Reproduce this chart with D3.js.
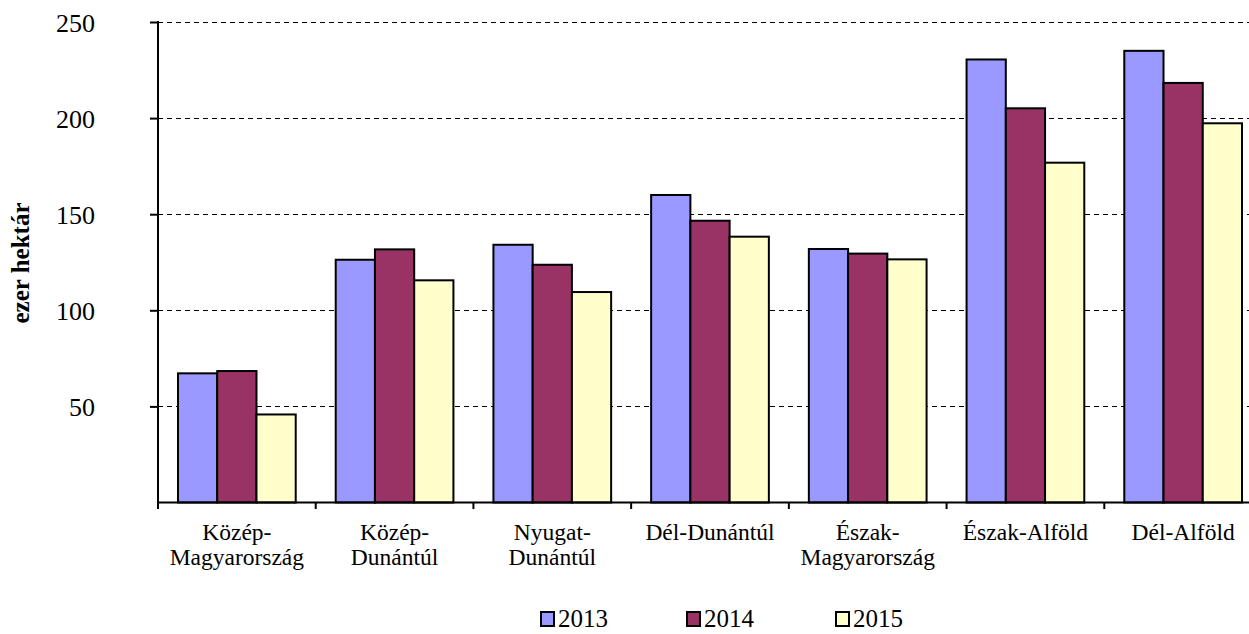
<!DOCTYPE html>
<html>
<head>
<meta charset="utf-8">
<script src="https://cdn.jsdelivr.net/npm/d3@7"></script>
<style>
  html, body { margin: 0; padding: 0; background: #fff; }
  svg { display: block; }
  text { font-family: "Liberation Serif", "Times New Roman", serif; fill: #000; }
</style>
</head>
<body>
<svg id="chart" width="1249" height="634"></svg>
<script>
const categories = [
  ["Közép-", "Magyarország"],
  ["Közép-", "Dunántúl"],
  ["Nyugat-", "Dunántúl"],
  ["Dél-Dunántúl"],
  ["Észak-", "Magyarország"],
  ["Észak-Alföld"],
  ["Dél-Alföld"]
];
const seriesNames = ["2013", "2014", "2015"];
const values2013 = [67.2, 126.3, 134.1, 160.0, 131.9, 230.5, 235.0];
const values2014 = [68.4, 131.7, 123.7, 146.6, 129.5, 205.1, 218.3];
const values2015 = [45.8, 115.6, 109.5, 138.3, 126.5, 176.8, 197.3];
const yTicks = [50, 100, 150, 200, 250];
const colors = ["#9999FF", "#993366", "#FFFFCC"];

const series = [values2013, values2014, values2015];
const svg = d3.select("#chart");

const x0 = d3.scaleBand()
  .domain(d3.range(categories.length))
  .range([158, 1262])
  .paddingInner(0.2536)
  .paddingOuter(0.1268);
const x1 = d3.scaleBand()
  .domain(seriesNames)
  .range([0, x0.bandwidth()])
  .padding(0);
const y = d3.scaleLinear().domain([0, 250]).range([502.5, 22]);

// gridlines
svg.append("g")
  .selectAll("line")
  .data(yTicks)
  .join("line")
  .attr("x1", 158).attr("x2", 1262)
  .attr("y1", d => Math.round(y(d)) + 0.5).attr("y2", d => Math.round(y(d)) + 0.5)
  .attr("stroke", "#000").attr("stroke-width", 1)
  .attr("stroke-dasharray", "5,4");

// bars
const groups = svg.append("g")
  .selectAll("g")
  .data(categories.map((c, i) => i))
  .join("g")
  .attr("transform", i => `translate(${x0(i)},0)`);
groups.selectAll("rect")
  .data(i => seriesNames.map((s, k) => ({ s, k, v: series[k][i] })))
  .join("rect")
  .attr("x", d => x1(d.s))
  .attr("y", d => y(d.v))
  .attr("width", x1.bandwidth())
  .attr("height", d => y(0) - y(d.v))
  .attr("fill", d => colors[d.k])
  .attr("stroke", "#000")
  .attr("stroke-width", 2);

// y axis
const yAxis = d3.axisLeft(y).tickValues(yTicks).tickSize(8).tickPadding(0).tickFormat(d3.format("d"));
const gy = svg.append("g").attr("transform", "translate(158,0)").call(yAxis);
gy.select(".domain").attr("stroke", "#000").attr("stroke-width", 2).attr("d", "M0,21V503");
gy.selectAll(".tick line").attr("stroke", "#000").attr("stroke-width", 2);
gy.selectAll(".tick text")
  .attr("x", -63).attr("dy", "0.35em")
  .style("font-family", "'Liberation Serif', serif")
  .style("font-size", "26px").attr("fill", "#000");

// x axis baseline with category boundary ticks
const bounds = d3.range(categories.length + 1).map(i => 158 + i * x0.step());
svg.append("line")
  .attr("x1", 157).attr("x2", 1262)
  .attr("y1", 502.5).attr("y2", 502.5)
  .attr("stroke", "#000").attr("stroke-width", 2);
svg.append("g").selectAll("line")
  .data(bounds)
  .join("line")
  .attr("x1", d => d).attr("x2", d => d)
  .attr("y1", 502).attr("y2", 509)
  .attr("stroke", "#000").attr("stroke-width", 2);

// category labels
const lab = svg.append("g").selectAll("text")
  .data(categories.map((c, i) => ({ c, i })))
  .join("text")
  .attr("text-anchor", "middle")
  .attr("font-size", "23.5px")
  .attr("x", d => x0(d.i) + x0.bandwidth() / 2)
  .attr("y", 540);
lab.selectAll("tspan")
  .data(d => d.c.map((t, j) => ({ t, j, x: x0(d.i) + x0.bandwidth() / 2 })))
  .join("tspan")
  .attr("x", d => d.x)
  .attr("dy", d => d.j === 0 ? 0 : 25)
  .text(d => d.t);

// y title
svg.append("text")
  .attr("transform", "translate(29,263) rotate(-90)")
  .attr("text-anchor", "middle")
  .attr("font-size", "25px")
  .attr("font-weight", "bold")
  .text("ezer hektár");

// legend
const legendX = [541, 687, 836];
const leg = svg.append("g").selectAll("g")
  .data(seriesNames.map((s, k) => ({ s, k })))
  .join("g")
  .attr("transform", d => `translate(${legendX[d.k]},612)`);
leg.append("rect")
  .attr("x", 0).attr("y", 0).attr("width", 13).attr("height", 14)
  .attr("fill", d => colors[d.k]).attr("stroke", "#000").attr("stroke-width", 2);
leg.append("text")
  .attr("x", 17).attr("y", 15)
  .attr("font-size", "25px")
  .text(d => d.s);
</script>
</body>
</html>
